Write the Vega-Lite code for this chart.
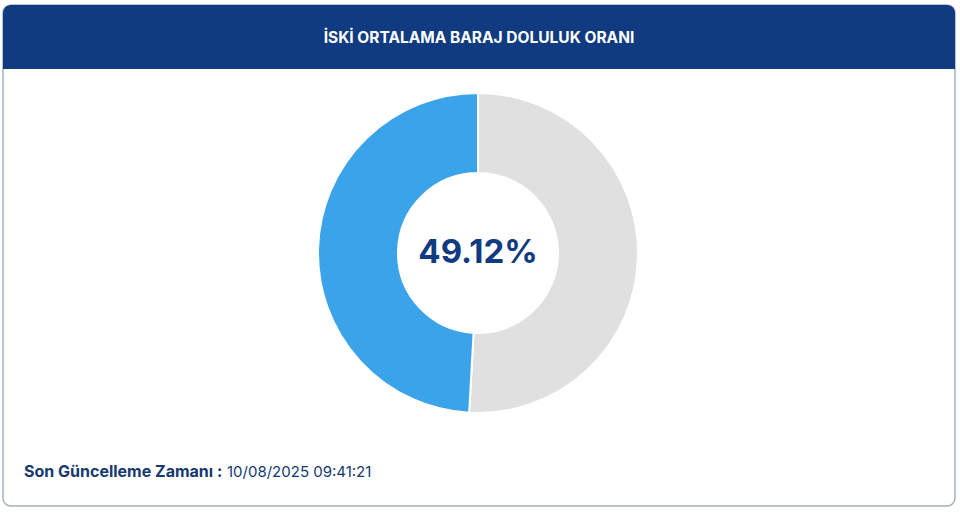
{
  "$schema": "https://vega.github.io/schema/vega-lite/v6.json",
  "width": 960,
  "height": 512,
  "autosize": {"type": "fit", "contains": "padding"},
  "padding": {"left": 3, "top": 5, "right": 5, "bottom": 6},
  "background": "white",
  "config": {
    "view": {"stroke": "#a3afc0", "strokeWidth": 1.5, "cornerRadius": 8},
    "font": "Inter"
  },
  "datasets": {
    "slices": [
      {"durum": "Boş", "oran": 50.88, "sira": 1},
      {"durum": "Dolu", "oran": 49.12, "sira": 2}
    ]
  },
  "layer": [
    {
      "data": {"values": [{}]},
      "mark": {"type": "rect", "color": "#103b80", "cornerRadiusTopLeft": 8, "cornerRadiusTopRight": 8},
      "encoding": {
        "x": {"datum": 0, "type": "quantitative", "scale": {"domain": [0, 952], "nice": false, "zero": false}, "axis": null},
        "x2": {"datum": 952},
        "y": {"datum": 0, "type": "quantitative", "scale": {"domain": [0, 501], "nice": false, "zero": false, "reverse": true}, "axis": null},
        "y2": {"datum": 64}
      }
    },
    {
      "data": {"values": [{}]},
      "mark": {"type": "text", "text": "İSKİ ORTALAMA BARAJ DOLULUK ORANI", "color": "white", "fontSize": 15.5, "fontWeight": "bold", "align": "center", "baseline": "middle"},
      "encoding": {
        "x": {"datum": 476, "type": "quantitative"},
        "y": {"datum": 33, "type": "quantitative"}
      }
    },
    {
      "data": {"name": "slices"},
      "mark": {"type": "arc", "outerRadius": 160, "innerRadius": 80, "stroke": "white", "strokeWidth": 2},
      "encoding": {
        "x": {"datum": 475, "type": "quantitative"},
        "y": {"datum": 248, "type": "quantitative"},
        "theta": {"field": "oran", "type": "quantitative", "stack": true},
        "order": {"field": "sira", "type": "quantitative"},
        "color": {"field": "durum", "type": "nominal", "scale": {"domain": ["Boş", "Dolu"], "range": ["#e0e0e0", "#3aa3e9"]}, "legend": null}
      }
    },
    {
      "data": {"values": [{}]},
      "mark": {"type": "text", "text": "49.12%", "color": "#103b80", "fontSize": 33, "fontWeight": "bold", "align": "center", "baseline": "middle"},
      "encoding": {
        "x": {"datum": 475, "type": "quantitative"},
        "y": {"datum": 248, "type": "quantitative"}
      }
    },
    {
      "data": {"values": [{}]},
      "mark": {"type": "text", "text": "Son Güncelleme Zamanı :", "color": "#16386f", "fontSize": 16, "fontWeight": "bold", "align": "left", "baseline": "alphabetic"},
      "encoding": {
        "x": {"datum": 21, "type": "quantitative"},
        "y": {"datum": 472, "type": "quantitative"}
      }
    },
    {
      "data": {"values": [{}]},
      "mark": {"type": "text", "text": "10/08/2025 09:41:21", "color": "#16386f", "fontSize": 15, "fontWeight": "normal", "align": "left", "baseline": "alphabetic"},
      "encoding": {
        "x": {"datum": 224, "type": "quantitative"},
        "y": {"datum": 472, "type": "quantitative"}
      }
    }
  ]
}
